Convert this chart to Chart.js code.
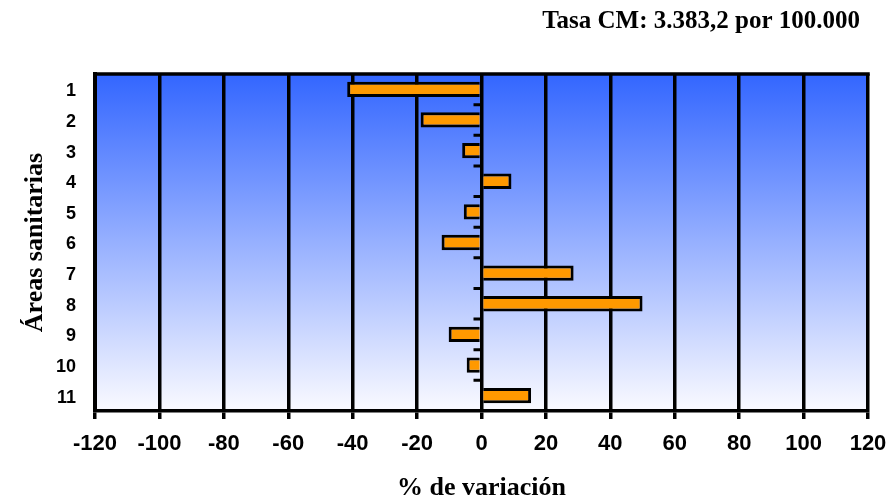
<!DOCTYPE html>
<html>
<head>
<meta charset="utf-8">
<script src="https://cdn.jsdelivr.net/npm/chart.js@4.4.1/dist/chart.umd.min.js"></script>
<style>
  html, body { margin: 0; padding: 0; background: #ffffff; }
  #wrap { width: 890px; height: 500px; position: relative; }
</style>
</head>
<body>
<div id="wrap"><canvas id="c" width="890" height="500"></canvas></div>
<script>
const categories = ['1', '2', '3', '4', '5', '6', '7', '8', '9', '10', '11'];
const variation = [-41.7, -18.9, -6.0, 9.3, -5.5, -12.4, 28.6, 50.0, -10.2, -4.6, 15.4];
const xTicks = [-120, -100, -80, -60, -40, -20, 0, 20, 40, 60, 80, 100, 120];
const titleText = 'Tasa CM: 3.383,2 por 100.000';
const xTitle = '% de variación';
const yTitle = 'Áreas sanitarias';

const bgPlugin = {
  id: 'bgGradient',
  beforeDraw(chart) {
    const { ctx, chartArea: a } = chart;
    const g = ctx.createLinearGradient(0, a.top, 0, a.bottom);
    g.addColorStop(0, '#3366FF');
    g.addColorStop(1, '#FAFAFF');
    ctx.save();
    ctx.fillStyle = g;
    ctx.fillRect(a.left, a.top, a.right - a.left, a.bottom - a.top);
    ctx.restore();
  }
};

const framePlugin = {
  id: 'frame',
  afterDraw(chart) {
    const { ctx, chartArea: a, scales } = chart;
    const x = scales.x, y = scales.y;
    ctx.save();
    ctx.strokeStyle = '#000';
    ctx.lineWidth = 3.5;
    ctx.beginPath();
    ctx.moveTo(a.left - 1.75, a.top);
    ctx.lineTo(a.right + 1.75, a.top);
    ctx.stroke();
    const x0 = x.getPixelForValue(0);
    ctx.lineWidth = 3;
    ctx.beginPath();
    for (let i = 0; i < categories.length - 1; i++) {
      const yb = (y.getPixelForValue(i) + y.getPixelForValue(i + 1)) / 2;
      ctx.moveTo(x0 - 8, yb);
      ctx.lineTo(x0, yb);
    }
    ctx.stroke();
    ctx.fillStyle = '#000';
    ctx.font = 'bold 25px "Liberation Serif", "Times New Roman", serif';
    ctx.textAlign = 'right';
    ctx.textBaseline = 'middle';
    ctx.fillText(titleText, 860, 22);
    ctx.restore();
  }
};

new Chart(document.getElementById('c'), {
  type: 'bar',
  data: {
    labels: categories,
    datasets: [{
      data: variation,
      backgroundColor: '#FF9900',
      borderColor: '#000000',
      borderWidth: 3,
      borderSkipped: 'start',
      categoryPercentage: 1,
      barPercentage: 0.5
    }]
  },
  options: {
    indexAxis: 'y',
    responsive: false,
    animation: false,
    devicePixelRatio: 1,
    layout: { padding: { top: 74, right: 22, left: 0, bottom: 0 } },
    plugins: {
      legend: { display: false },
      tooltip: { enabled: false },
      title: { display: false }
    },
    scales: {
      x: {
        type: 'linear',
        min: -120,
        max: 120,
        afterBuildTicks(scale) { scale.ticks = xTicks.map(v => ({ value: v })); },
        afterFit(scale) { scale.height = 89; scale.paddingLeft = 0; scale.paddingRight = 0; },
        grid: { color: '#000', lineWidth: 3.5, tickLength: 8, drawTicks: true },
        border: { display: true, color: '#000', width: 3.5 },
        ticks: {
          color: '#000',
          padding: 12,
          maxRotation: 0,
          font: { family: '"Liberation Sans", Arial, sans-serif', weight: 'bold', size: 22 }
        },
        title: {
          display: true,
          text: xTitle,
          color: '#000',
          padding: { top: 0, bottom: 0 },
          font: { family: '"Liberation Serif", "Times New Roman", serif', weight: 'bold', size: 26, lineHeight: 0.9 }
        }
      },
      y: {
        type: 'category',
        afterFit(scale) { scale.width = 95; },
        grid: { display: false, drawTicks: false, tickLength: 0 },
        border: { display: true, color: '#000', width: 4 },
        ticks: {
          color: '#000',
          padding: 19,
          labelOffset: 2,
          font: { family: '"Liberation Sans", Arial, sans-serif', weight: 'bold', size: 18 }
        },
        title: {
          display: true,
          text: yTitle,
          color: '#000',
          padding: { top: 22, bottom: 0 },
          font: { family: '"Liberation Serif", "Times New Roman", serif', weight: 'bold', size: 26, lineHeight: 1 }
        }
      }
    }
  },
  plugins: [bgPlugin, framePlugin]
});
</script>
</body>
</html>
